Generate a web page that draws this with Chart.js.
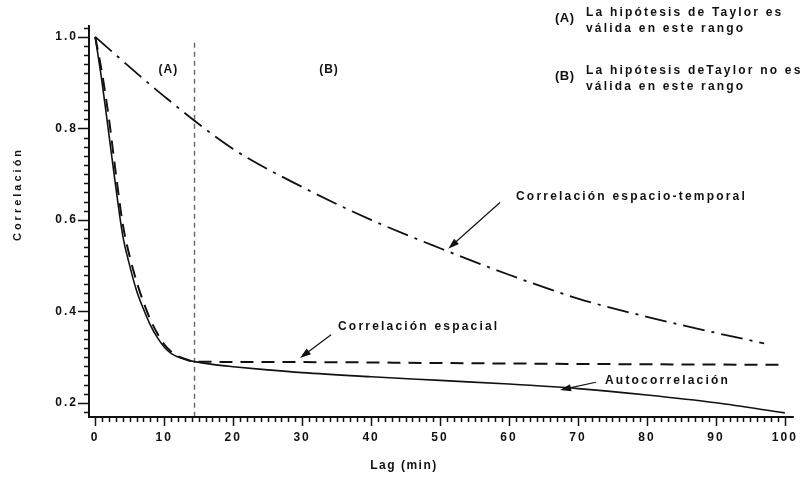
<!DOCTYPE html>
<html>
<head>
<meta charset="utf-8">
<script src="https://cdn.jsdelivr.net/npm/chart.js@4/dist/chart.umd.min.js"></script>
<style>
html, body { margin: 0; padding: 0; background: #fff; }
#wrap { width: 808px; height: 479px; position: relative; }
</style>
</head>
<body>
<div id="wrap"><canvas id="corrChart"></canvas></div>
<script>
// Correlation vs lag
const xTicks = [0, 10, 20, 30, 40, 50, 60, 70, 80, 90, 100];
const yTicks = [0.2, 0.4, 0.6, 0.8, 1.0];

const lagAuto = [0, 1, 2, 3, 4, 5, 6, 7, 8, 9, 10, 11, 12, 13, 14.4, 17, 20, 25, 30, 40, 50, 60, 70, 80, 90, 100];
const autoCorr = [1.0, 0.9, 0.785, 0.67, 0.565, 0.5, 0.445, 0.405, 0.37, 0.343, 0.322, 0.308, 0.3, 0.295, 0.29, 0.284, 0.279, 0.272, 0.266, 0.257, 0.249, 0.241, 0.231, 0.217, 0.2, 0.178];

const lagSpatial = [0, 1, 2, 3, 4, 5, 6, 7, 8, 9, 10, 11, 12, 13, 14.4, 30, 50, 70, 100];
const spatialCorr = [1.0, 0.92, 0.82, 0.7, 0.59, 0.52, 0.465, 0.42, 0.382, 0.352, 0.328, 0.312, 0.302, 0.296, 0.29, 0.289, 0.287, 0.285, 0.283];

const lagST = [0, 10, 20, 30, 40, 50, 60, 70, 80, 90, 97];
const stCorr = [1.0, 0.87, 0.755, 0.672, 0.6, 0.538, 0.48, 0.428, 0.388, 0.353, 0.33];

// limit between region (A) and (B)
const boundaryLag = 14.4;
const boundaryTop = 0.987;

const xMin = -0.9, xMax = 101.3;
const yMin = 0.169, yMax = 1.026;

const ink = '#111';
const fontFamily = "'Liberation Sans', Arial, sans-serif";

function toPoints(xs, ys) {
    return xs.map(function(x, i) { return { x: x, y: ys[i] }; });
}

function drawArrow(ctx, x1, y1, x2, y2) {
    const ang = Math.atan2(y2 - y1, x2 - x1);
    const len = 11, half = 3.6;
    ctx.beginPath();
    ctx.moveTo(x1, y1);
    ctx.lineTo(x2 - Math.cos(ang) * len * 0.8, y2 - Math.sin(ang) * len * 0.8);
    ctx.stroke();
    ctx.beginPath();
    ctx.moveTo(x2, y2);
    ctx.lineTo(x2 - Math.cos(ang) * len - Math.sin(ang) * half, y2 - Math.sin(ang) * len + Math.cos(ang) * half);
    ctx.lineTo(x2 - Math.cos(ang) * len + Math.sin(ang) * half, y2 - Math.sin(ang) * len - Math.cos(ang) * half);
    ctx.closePath();
    ctx.fill();
}

const spacingPlugin = {
    id: 'spacing',
    beforeDraw: function(chart) {
        chart.ctx.letterSpacing = '2px';
    }
};

const decorPlugin = {
    id: 'decor',
    afterDraw: function(chart) {
        const ctx = chart.ctx;
        const xs = chart.scales.x, ys = chart.scales.y;
        const area = chart.chartArea;
        ctx.save();
        ctx.strokeStyle = ink;
        ctx.fillStyle = ink;

        // axis lines
        ctx.lineWidth = 2;
        ctx.beginPath();
        ctx.moveTo(area.left, area.top);
        ctx.lineTo(area.left, area.bottom);
        ctx.lineTo(area.right, area.bottom);
        ctx.stroke();

        // major + minor tick marks
        ctx.lineWidth = 1.5;
        for (let i = 0; i <= 100; i++) {
            const px = Math.round(xs.getPixelForValue(i)) + 0.5;
            const major = i % 10 === 0;
            ctx.beginPath();
            ctx.moveTo(px, area.bottom);
            ctx.lineTo(px, area.bottom + (major ? 9 : 5));
            ctx.stroke();
        }
        for (let k = 9; k <= 51; k++) {
            const v = k * 0.02;
            const py = Math.round(ys.getPixelForValue(v)) + 0.5;
            const major = k % 10 === 0;
            ctx.beginPath();
            ctx.moveTo(area.left, py);
            ctx.lineTo(area.left - (major ? 11 : 5), py);
            ctx.stroke();
        }

        // axis titles
        ctx.font = 'bold 11px ' + fontFamily;
        ctx.letterSpacing = '3px';
        ctx.textAlign = 'center';
        ctx.textBaseline = 'middle';
        ctx.save();
        ctx.translate(18, 194);
        ctx.rotate(-Math.PI / 2);
        ctx.fillText('Correlación', 0, 0);
        ctx.restore();
        ctx.font = 'bold 12px ' + fontFamily;
        ctx.letterSpacing = '1.5px';
        ctx.fillText('Lag (min)', 404, 466);

        // region labels
        ctx.font = 'bold 12px ' + fontFamily;
        ctx.letterSpacing = '1px';
        ctx.fillText('(A)', xs.getPixelForValue(10.6), 70);
        ctx.fillText('(B)', xs.getPixelForValue(33.9), 70);

        // curve labels with arrows
        ctx.textAlign = 'left';
        ctx.letterSpacing = '2.2px';
        ctx.fillText('Correlación espacio-temporal', 516, 197);
        ctx.fillText('Correlación espacial', 338, 327);
        ctx.fillText('Autocorrelación', 605, 381);

        ctx.lineWidth = 1.2;
        drawArrow(ctx, xs.getPixelForValue(58.7), ys.getPixelForValue(0.638), xs.getPixelForValue(51.2), ys.getPixelForValue(0.537));
        drawArrow(ctx, xs.getPixelForValue(34.2), ys.getPixelForValue(0.349), xs.getPixelForValue(29.7), ys.getPixelForValue(0.298));
        drawArrow(ctx, xs.getPixelForValue(72.6), ys.getPixelForValue(0.245), xs.getPixelForValue(67.4), ys.getPixelForValue(0.228));

        // key at top right
        ctx.font = 'bold 13px ' + fontFamily;
        ctx.letterSpacing = '0.5px';
        ctx.fillText('(A)', 555, 18);
        ctx.fillText('(B)', 555, 76);
        ctx.font = 'bold 12px ' + fontFamily;
        ctx.letterSpacing = '2.2px';
        ctx.fillText('La hipótesis de Taylor es', 586, 13);
        ctx.fillText('válida en este rango', 586, 29);
        ctx.fillText('La hipótesis deTaylor no es', 586, 71);
        ctx.fillText('válida en este rango', 586, 87);

        ctx.restore();
    }
};

document.addEventListener('DOMContentLoaded', function() {
    const canvas = document.getElementById('corrChart');
    Chart.defaults.font.family = fontFamily;
    Chart.defaults.font.weight = 'bold';
    Chart.defaults.color = ink;

    new Chart(canvas.getContext('2d'), {
        type: 'line',
        data: {
            datasets: [
                {
                    label: 'Correlación espacio-temporal',
                    data: toPoints(lagST, stCorr),
                    borderColor: ink,
                    borderWidth: 1.8,
                    borderDash: [22, 7, 3, 7],
                    pointRadius: 0,
                    cubicInterpolationMode: 'monotone'
                },
                {
                    label: 'Correlación espacial',
                    data: toPoints(lagSpatial, spatialCorr),
                    borderColor: ink,
                    borderWidth: 2,
                    borderDash: [13, 8],
                    pointRadius: 0,
                    cubicInterpolationMode: 'monotone'
                },
                {
                    label: 'Autocorrelación',
                    data: toPoints(lagAuto, autoCorr),
                    borderColor: ink,
                    borderWidth: 1.6,
                    pointRadius: 0,
                    cubicInterpolationMode: 'monotone'
                },
                {
                    label: 'Límite',
                    data: [{ x: boundaryLag, y: boundaryTop }, { x: boundaryLag, y: yMin }],
                    borderColor: '#666',
                    borderWidth: 1.4,
                    borderDash: [5, 4],
                    pointRadius: 0
                }
            ]
        },
        options: {
            responsive: true,
            maintainAspectRatio: false,
            animation: false,
            layout: { padding: { top: 25, right: 11, left: 0, bottom: 0 } },
            plugins: {
                legend: { display: false },
                tooltip: { enabled: false }
            },
            scales: {
                x: {
                    type: 'linear',
                    min: xMin,
                    max: xMax,
                    grid: { display: false, drawTicks: false },
                    border: { display: false },
                    afterBuildTicks: function(scale) {
                        scale.ticks = xTicks.map(function(v) { return { value: v }; });
                    },
                    afterFit: function(scale) { scale.height = 62; },
                    ticks: {
                        autoSkip: false,
                        maxRotation: 0,
                        padding: 13,
                        font: { size: 12, weight: 'bold' },
                        color: ink
                    }
                },
                y: {
                    type: 'linear',
                    min: yMin,
                    max: yMax,
                    grid: { display: false, drawTicks: false },
                    border: { display: false },
                    afterBuildTicks: function(scale) {
                        scale.ticks = yTicks.map(function(v) { return { value: v }; });
                    },
                    afterFit: function(scale) { scale.width = 89; },
                    ticks: {
                        autoSkip: false,
                        padding: 11,
                        font: { size: 12, weight: 'bold' },
                        color: ink,
                        callback: function(value) { return Number(value).toFixed(1); }
                    }
                }
            }
        },
        plugins: [spacingPlugin, decorPlugin]
    });
});
</script>
</body>
</html>
